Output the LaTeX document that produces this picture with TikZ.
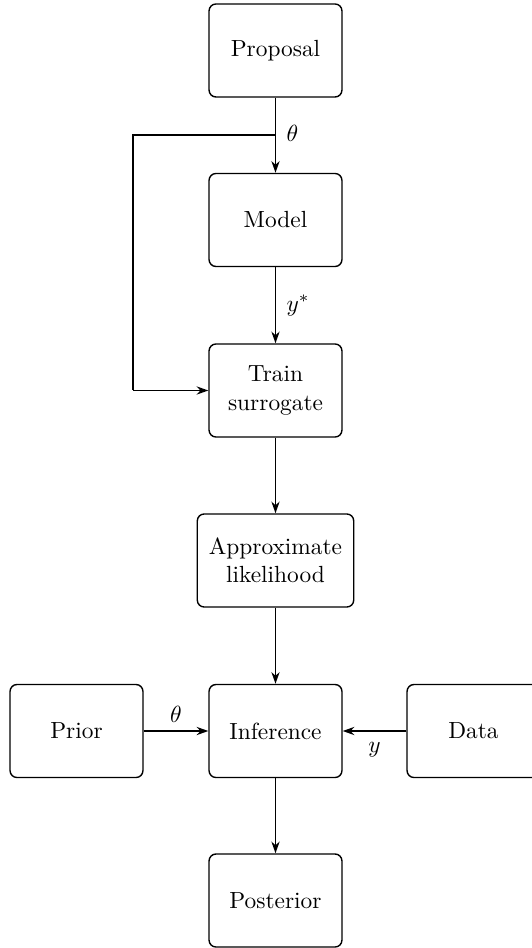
\documentclass[tikz,border=0pt]{standalone}
\usetikzlibrary{arrows.meta}
\begin{document}
\begin{tikzpicture}[x=0.015038cm,y=-0.015038cm,
  box/.style={draw,rounded corners=3pt,semithick,minimum width=2cm,minimum height=1.4cm,align=center,inner sep=5pt},
  conn/.style={thick,-{Stealth[length=5pt,width=3.5pt]}}]
\useasboundingbox (0,0) rectangle (532,948);
\node[box] (prop) at (275.5,50.5) {Proposal};
\node[box] (model) at (275.5,220) {Model};
\node[box] (train) at (275.5,390.5) {Train\\surrogate};
\node[box] (approx) at (275.5,560.5) {Approximate\\likelihood};
\node[box] (inf) at (275.5,731) {Inference};
\node[box] (post) at (275.5,900.5) {Posterior};
\node[box] (prior) at (76.5,731) {Prior};
\node[box] (data) at (473.5,731) {Data};
\coordinate (br) at (275.5,135);
\coordinate (lc) at (133,135);
\coordinate (ld) at (133,390.5);
\draw[conn] (prop) -- (model) node[pos=0.47,right=1pt] {$\theta$};
\draw[thick] (br) -- (lc) -- (ld);
\draw[conn] (ld) -- (train);
\draw[conn] (model) -- (train) node[midway,right=1pt] {$y^{*}$};
\draw[conn] (train) -- (approx);
\draw[conn] (approx) -- (inf);
\draw[conn] (prior) -- (inf) node[midway,above=0pt] {$\theta$};
\draw[conn] (data) -- (inf) node[midway,below=1pt] {$y$};
\draw[conn] (inf) -- (post);
\end{tikzpicture}
\end{document}
